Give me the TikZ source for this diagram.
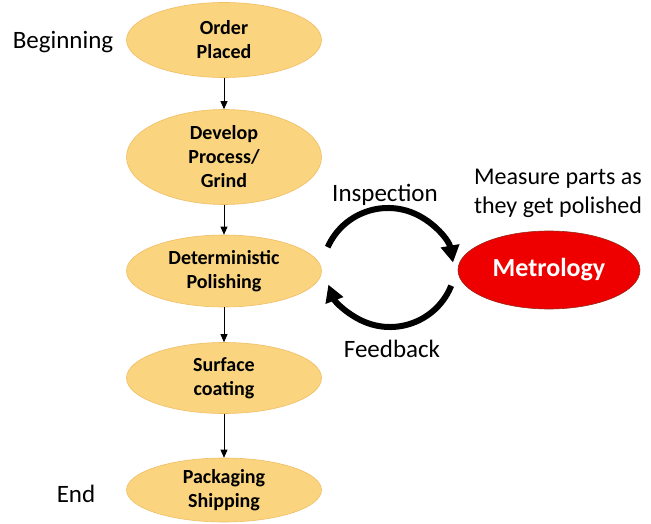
\documentclass[tikz,border=0pt]{standalone}
\usepackage{fontspec}
\setmainfont{Carlito}
\usetikzlibrary{shapes.geometric,arrows.meta}
\definecolor{stepfill}{RGB}{250,212,126}
\definecolor{stepline}{RGB}{240,190,100}
\definecolor{metrofill}{RGB}{238,0,0}
\definecolor{metroline}{RGB}{150,40,20}
\tikzset{
 stepnode/.style={ellipse,fill=stepfill,draw=stepline,line width=0.6pt,minimum width=195pt,align=center,font=\fontsize{20}{24}\selectfont\bfseries,inner sep=0pt},
 sidetext/.style={font=\fontsize{25}{29}\selectfont,align=center},
 flow/.style={-{Triangle[length=8pt,width=7pt]},line width=0.8pt},
 loopline/.style={-{Triangle[length=17pt,width=18pt]},line width=6pt}
}
\begin{document}
\begin{tikzpicture}[x=1pt,y=1pt]
 \useasboundingbox (0,0) rectangle (651,523);
 \node[stepnode,minimum height=75pt] (order) at (224,483) {Order\\Placed};
 \node[stepnode,minimum height=95pt] (develop) at (224,366) {Develop\\Process/\\Grind};
 \node[stepnode,minimum height=72pt] (poli) at (224,252) {Deterministic\\Polishing};
 \node[stepnode,minimum height=71pt] (surf) at (224,145) {Surface\\coating};
 \node[stepnode,minimum height=64pt] (pack) at (224,33) {Packaging\\Shipping};
 \node[ellipse,fill=metrofill,draw=metroline,line width=0.6pt,minimum width=182pt,minimum height=78pt,text=white,font=\fontsize{26}{30}\selectfont\bfseries] (metro) at (549,253) {Metrology};

 \node[sidetext] (begin) at (63,481) {Beginning};
 \node[sidetext] (end) at (76,29) {End};
 \node[sidetext] (insp) at (385,328) {Inspection};
 \node[sidetext] (feed) at (392,174) {Feedback};
 \node[sidetext,font=\fontsize{24}{29}\selectfont] (measure) at (558,330) {Measure parts as\\they get polished};

 \path [flow] (order) edge node {} (develop);
 \path [flow] (develop) edge node {} (poli);
 \path [flow] (poli) edge node {} (surf);
 \path [flow] (surf) edge node {} (pack);

 \coordinate (upc) at (388,249);
 \coordinate (lowc) at (390,262);
 \draw [loopline] ([shift={(156:66)}]upc) arc[start angle=156,end angle=10,radius=66];
 \draw [loopline] ([shift={(-22:66)}]lowc) arc[start angle=-22,end angle=-159,radius=66];
\end{tikzpicture}
\end{document}
